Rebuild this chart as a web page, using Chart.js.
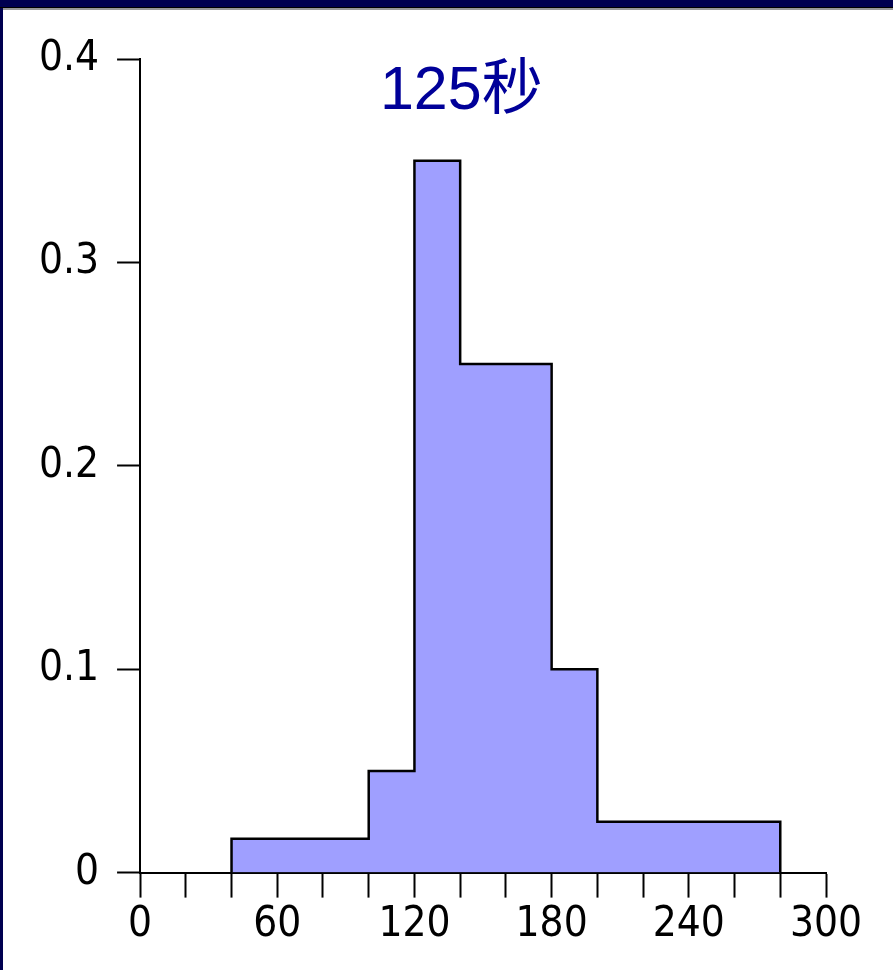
<!DOCTYPE html>
<html>
<head>
<meta charset="utf-8">
<script src="https://cdn.jsdelivr.net/npm/chart.js@4/dist/chart.umd.min.js"></script>
<style>
  html, body { margin: 0; padding: 0; background: #000050; }
  #frame {
    position: absolute; left: 3px; top: 8px; width: 890px; height: 962px;
    background: #fff; border-top: 2px solid #999; box-sizing: border-box;
  }
  #frame:before {
    content: ""; position: absolute; left: -3px; top: -3px; width: 893px; height: 1px; background: #000;
  }
  canvas { display: block; }
</style>
</head>
<body>
<div id="frame"><canvas id="chart" width="890" height="960"></canvas></div>
<script>
// bin edges (seconds) and density for each bin
const binEdges = [40, 100, 120, 140, 180, 200, 280];
const density = [0.0167, 0.05, 0.35, 0.25, 0.1, 0.025];
const titleText = "125秒";
const xLabelEvery = 60;

// outline points for the stepped line
const points = [{ x: binEdges[0], y: 0 }];
density.forEach((d, i) => points.push({ x: binEdges[i], y: d }));
points.push({ x: binEdges[binEdges.length - 1], y: density[density.length - 1] });
points.push({ x: binEdges[binEdges.length - 1], y: 0 });

const tickFont = { family: "'Liberation Sans Narrow', 'DejaVu Sans Condensed', sans-serif", size: 42 };

const titlePlugin = {
  id: "innerTitle",
  afterDraw(chart) {
    const { ctx, scales } = chart;
    ctx.save();
    ctx.fillStyle = "#000099";
    ctx.font = "61px 'Liberation Sans', 'Noto Sans CJK SC', sans-serif";
    ctx.textAlign = "center";
    ctx.textBaseline = "alphabetic";
    ctx.fillText(titleText, scales.x.getPixelForValue(140.5), scales.y.getPixelForValue(0.3755));
    ctx.restore();
  }
};

new Chart(document.getElementById("chart"), {
  type: "line",
  data: {
    datasets: [{
      data: points,
      stepped: "before",
      fill: "origin",
      backgroundColor: "#9f9fff",
      borderColor: "#000",
      borderWidth: 2.5,
      pointRadius: 0,
      tension: 0
    }]
  },
  plugins: [titlePlugin],
  options: {
    responsive: false,
    animation: false,
    layout: { padding: { left: 18, right: 67, top: 49, bottom: 18 } },
    plugins: { legend: { display: false }, tooltip: { enabled: false } },
    scales: {
      x: {
        type: "linear",
        min: 0, max: 300,
        ticks: {
          stepSize: 20,
          autoSkip: false,
          maxRotation: 0,
          color: "#000",
          font: tickFont,
          padding: 2,
          callback: (v) => (v % xLabelEvery === 0 ? String(v) : "")
        },
        grid: { drawOnChartArea: false, drawTicks: true, tickLength: 25, tickColor: "#000", tickWidth: 2 },
        border: { color: "#000", width: 2 }
      },
      y: {
        min: 0, max: 0.4,
        ticks: { stepSize: 0.1, color: "#000", font: tickFont, padding: 18 },
        grid: { drawOnChartArea: false, drawTicks: true, tickLength: 23, tickColor: "#000", tickWidth: 2 },
        border: { color: "#000", width: 2 }
      }
    }
  }
});
</script>
</body>
</html>
